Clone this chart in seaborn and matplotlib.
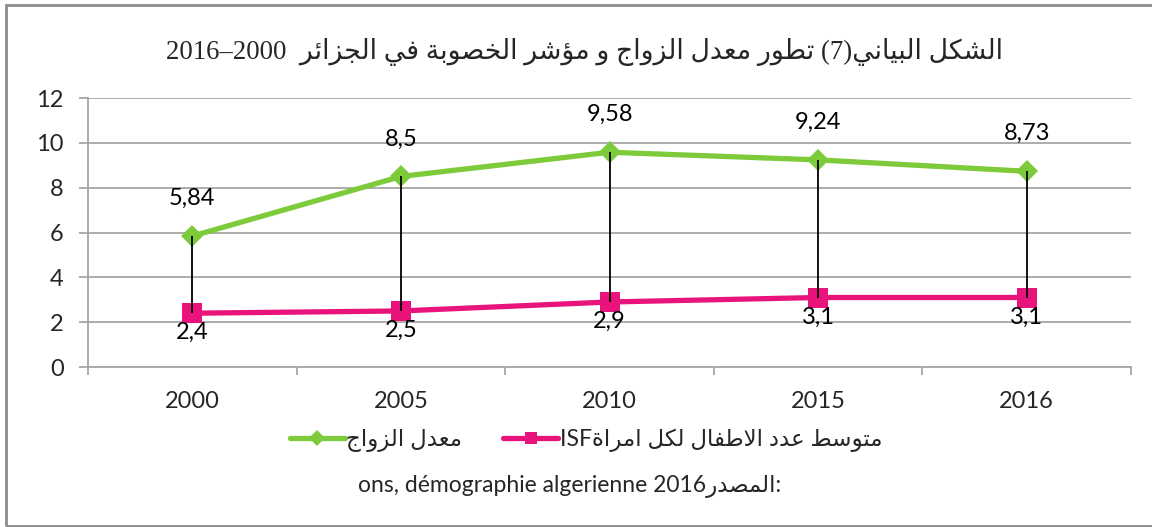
import re
import numpy as np
import pandas as pd
import seaborn as sns
import matplotlib.pyplot as plt
from matplotlib.patches import Rectangle

# --- data ---
years = ["2000", "2005", "2010", "2015", "2016"]
marriage_rate = [5.84, 8.5, 9.58, 9.24, 8.73]
isf = [2.4, 2.5, 2.9, 3.1, 3.1]
marriage_labels = ["5,84", "8,5", "9,58", "9,24", "8,73"]
isf_labels = ["2,4", "2,5", "2,9", "3,1", "3,1"]
y_ticks = [0, 2, 4, 6, 8, 10, 12]

title_txt = "الشكل البياني(7) تطور معدل الزواج و مؤشر الخصوبة في الجزائر  2016–2000"
name_marriage = "معدل الزواج"
name_isf = "متوسط عدد الاطفال لكل امراةISF"
source_lat = "ons, démographie algerienne 2016"
source_ar = "المصدر"

GREEN = "#7DCB3A"
PINK = "#E8147B"
GRID = "#A6A6A6"

# --- minimal arabic shaping (matplotlib has no complex text layout) ---
# isolated, final, initial, medial
FORMS = {
    "ء": (0xFE80, None, None, None), "آ": (0xFE81, 0xFE82, None, None),
    "أ": (0xFE83, 0xFE84, None, None), "ؤ": (0xFE85, 0xFE86, None, None),
    "إ": (0xFE87, 0xFE88, None, None), "ئ": (0xFE89, 0xFE8A, 0xFE8B, 0xFE8C),
    "ا": (0xFE8D, 0xFE8E, None, None), "ب": (0xFE8F, 0xFE90, 0xFE91, 0xFE92),
    "ة": (0xFE93, 0xFE94, None, None), "ت": (0xFE95, 0xFE96, 0xFE97, 0xFE98),
    "ث": (0xFE99, 0xFE9A, 0xFE9B, 0xFE9C), "ج": (0xFE9D, 0xFE9E, 0xFE9F, 0xFEA0),
    "ح": (0xFEA1, 0xFEA2, 0xFEA3, 0xFEA4), "خ": (0xFEA5, 0xFEA6, 0xFEA7, 0xFEA8),
    "د": (0xFEA9, 0xFEAA, None, None), "ذ": (0xFEAB, 0xFEAC, None, None),
    "ر": (0xFEAD, 0xFEAE, None, None), "ز": (0xFEAF, 0xFEB0, None, None),
    "س": (0xFEB1, 0xFEB2, 0xFEB3, 0xFEB4), "ش": (0xFEB5, 0xFEB6, 0xFEB7, 0xFEB8),
    "ص": (0xFEB9, 0xFEBA, 0xFEBB, 0xFEBC), "ض": (0xFEBD, 0xFEBE, 0xFEBF, 0xFEC0),
    "ط": (0xFEC1, 0xFEC2, 0xFEC3, 0xFEC4), "ظ": (0xFEC5, 0xFEC6, 0xFEC7, 0xFEC8),
    "ع": (0xFEC9, 0xFECA, 0xFECB, 0xFECC), "غ": (0xFECD, 0xFECE, 0xFECF, 0xFED0),
    "ف": (0xFED1, 0xFED2, 0xFED3, 0xFED4), "ق": (0xFED5, 0xFED6, 0xFED7, 0xFED8),
    "ك": (0xFED9, 0xFEDA, 0xFEDB, 0xFEDC), "ل": (0xFEDD, 0xFEDE, 0xFEDF, 0xFEE0),
    "م": (0xFEE1, 0xFEE2, 0xFEE3, 0xFEE4), "ن": (0xFEE5, 0xFEE6, 0xFEE7, 0xFEE8),
    "ه": (0xFEE9, 0xFEEA, 0xFEEB, 0xFEEC), "و": (0xFEED, 0xFEEE, None, None),
    "ى": (0xFEEF, 0xFEF0, None, None), "ي": (0xFEF1, 0xFEF2, 0xFEF3, 0xFEF4),
}
LAM_ALEF = {"آ": (0xFEF5, 0xFEF6), "أ": (0xFEF7, 0xFEF8),
            "إ": (0xFEF9, 0xFEFA), "ا": (0xFEFB, 0xFEFC)}
MIRROR = {"(": ")", ")": "("}


def ar(s):
    out = []
    chars = list(s)
    i = 0
    while i < len(chars):
        c = chars[i]
        if c not in FORMS:
            out.append(c)
            i += 1
            continue
        prev = chars[i - 1] if i > 0 else ""
        joins_prev = prev in FORMS and FORMS[prev][2] is not None
        nxt = chars[i + 1] if i + 1 < len(chars) else ""
        if c == "ل" and nxt in LAM_ALEF:
            out.append(chr(LAM_ALEF[nxt][1 if joins_prev else 0]))
            i += 2
            continue
        iso, fin, ini, med = FORMS[c]
        joins_next = ini is not None and nxt in FORMS and FORMS[nxt][1] is not None
        if joins_prev and joins_next:
            code = med
        elif joins_prev:
            code = fin
        elif joins_next:
            code = ini
        else:
            code = iso
        out.append(chr(code))
        i += 1
    vis = "".join(MIRROR.get(ch, ch) for ch in reversed(out))
    # put left-to-right runs back in reading order
    return re.sub(r"[0-9A-Za-zÀ-ÿ]+(?:[\-–−,.]+[0-9A-Za-zÀ-ÿ]+)*",
                  lambda m: m.group(0)[::-1], vis)


sns.set_style("white")
plt.rcParams["font.family"] = ["Lato", "DejaVu Sans"]

x = np.arange(len(years))
df = pd.DataFrame({
    "x": np.concatenate([x, x]),
    "value": marriage_rate + isf,
    "serie": [ar(name_marriage)] * len(years) + [ar(name_isf)] * len(years),
})

fig = plt.figure(figsize=(11.52, 5.27), dpi=100)
ax = fig.add_axes([88 / 1152, 160 / 527, (1131 - 88) / 1152, (367 - 98) / 527])

sns.lineplot(data=df, x="x", y="value", hue="serie", style="serie",
             palette=[GREEN, PINK], markers=["D", "s"], dashes=False,
             linewidth=3.8, markersize=11, markeredgewidth=0, ax=ax)
for ln, ms in zip(ax.lines, [11.5, 14.5]):
    ln.set_markersize(ms)

# drop lines between the two series
ax.vlines(x, isf, marriage_rate, color="black", linewidth=1.3, zorder=5)

for xi, v, lab in zip(x, marriage_rate, marriage_labels):
    ax.annotate(lab, (xi, v), xytext=(0, 27), textcoords="offset points",
                ha="center", va="center", fontsize=17, color="black")
for xi, v, lab in zip(x, isf, isf_labels):
    ax.annotate(lab, (xi, v), xytext=(0, -14), textcoords="offset points",
                ha="center", va="center", fontsize=17, color="black")

ax.set_xlim(-0.5, len(years) - 0.5)
ax.set_ylim(0, 12)
ax.set_yticks(y_ticks)
ax.set_yticklabels([str(t) for t in y_ticks], fontsize=17)
ax.set_xticks(x)
ax.set_xticklabels(years, fontsize=17)
ax.set_xlabel("")
ax.set_ylabel("")
ax.yaxis.grid(True, color=GRID, linewidth=1.3)
ax.set_axisbelow(True)
for side in ["top", "right"]:
    ax.spines[side].set_visible(False)
for side in ["left", "bottom"]:
    ax.spines[side].set_color(GRID)
    ax.spines[side].set_linewidth(1.3)
ax.tick_params(axis="y", length=6.5, width=1.3, color=GRID, pad=11, left=True)
ax.tick_params(axis="x", length=0, pad=17)
# category boundary ticks on the x axis
ax.set_xticks(np.arange(len(years) + 1) - 0.5, minor=True)
ax.tick_params(axis="x", which="minor", length=6, width=1.3, color=GRID, bottom=True)

ax.get_legend().remove()
handles, labels = ax.get_legend_handles_labels()
fig.legend(handles, labels, loc="center", bbox_to_anchor=(586 / 1152, 1 - 440 / 527),
           ncol=2, frameon=False, fontsize=16.5, handlelength=2.4, columnspacing=1.8,
           handletextpad=0.05, markerscale=0.75)

fig.text(585 / 1152, 1 - 52 / 527, ar(title_txt), ha="center", va="center",
         fontsize=19.3, family=["Liberation Serif", "DejaVu Sans"])
fig.text(570 / 1152, 1 - 487 / 527, source_lat + ar(source_ar) + ":",
         ha="center", va="center", fontsize=16.5)

fig.patches.append(Rectangle((6 / 1152, 1 / 527), 1.2, 521 / 527,
                             transform=fig.transFigure, fill=False,
                             edgecolor="#8C8C8C", linewidth=2))

fig.savefig("out.png", dpi=100)
